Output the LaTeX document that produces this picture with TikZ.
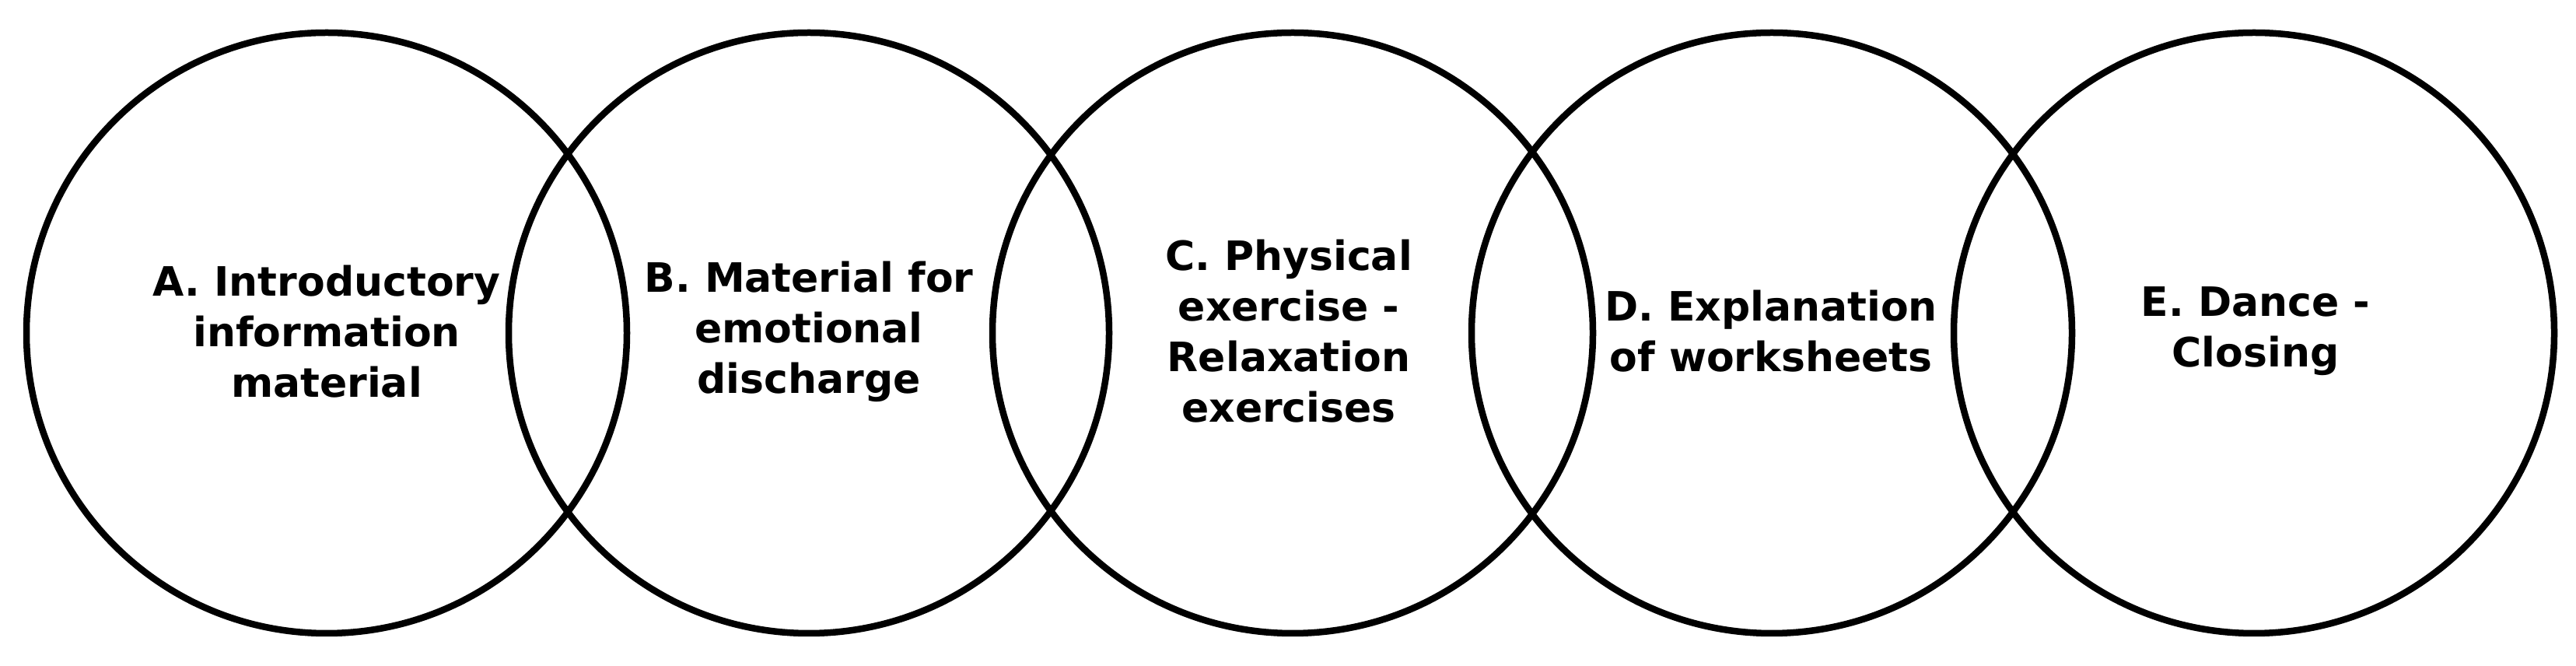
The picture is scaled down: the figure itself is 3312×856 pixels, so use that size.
\documentclass[tikz,border=0pt]{standalone}
\usepackage{fontspec}
\setmainfont{DejaVu Sans}
\begin{document}
\begin{tikzpicture}[x=1pt,y=1pt,
  ring/.style={circle,draw=black,line width=8.5pt,minimum size=772pt,inner sep=0pt},
  lbl/.style={align=center,font=\fontsize{52}{65}\selectfont\bfseries}]
\useasboundingbox (0,0) rectangle (3312,856);
\node[ring] (A) at (420,428) {};
\node[ring] (B) at (1040,428) {};
\node[ring] (C) at (1662,428) {};
\node[ring] (D) at (2278,428) {};
\node[ring] (E) at (2898,428) {};
\node[lbl] (tA) at (420,430) {A. Introductory\\information\\material};
\node[lbl] (tB) at (1040,430) {B. Material for\\emotional\\discharge};
\node[lbl] (tC) at (1657,430) {C. Physical\\exercise -\\Relaxation\\exercises};
\node[lbl] (tD) at (2277,430) {D. Explanation\\of worksheets};
\node[lbl] (tE) at (2900,430) {E. Dance -\\Closing};
\end{tikzpicture}
\end{document}
